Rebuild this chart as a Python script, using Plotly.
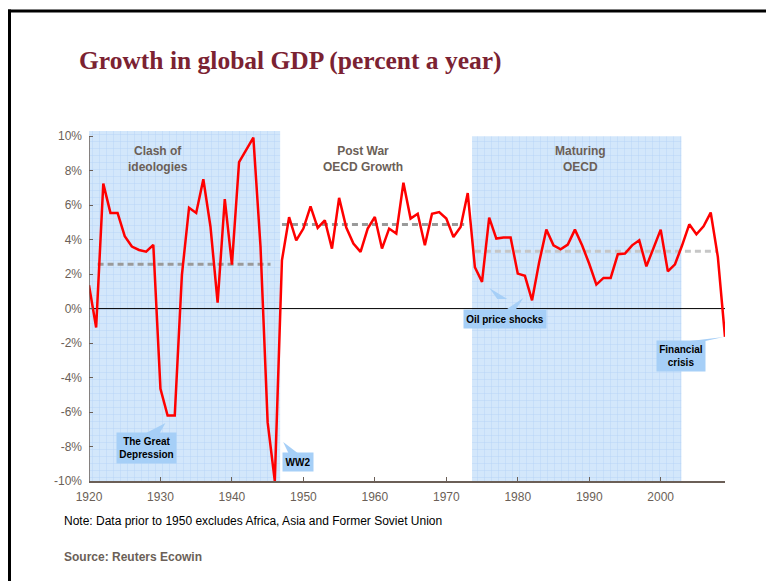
import plotly.graph_objects as go

# Annual growth of world GDP, percent
years = list(range(1920, 2010))
growth = [
    1.35, -1.1, 7.25, 5.55, 5.55, 4.2, 3.6, 3.4, 3.3, 3.7,        # 1920s
    -4.65, -6.2, -6.2, 1.95, 5.85, 5.55, 7.5, 4.75, 0.35, 6.35,   # 1930s
    2.55, 8.5, 9.2, 9.92, 3.6, -6.6, -10.0, 2.8, 5.3, 3.96,       # 1940s
    4.64, 5.93, 4.68, 5.12, 3.48, 6.42, 4.7, 3.77, 3.29, 4.64,    # 1950s
    5.31, 3.48, 4.64, 4.35, 7.3, 5.22, 5.5, 3.67, 5.5, 5.6,       # 1960s
    5.22, 4.15, 4.73, 6.7, 2.4, 1.55, 5.28, 4.06, 4.12, 4.12,     # 1970s
    2.03, 1.9, 0.48, 2.7, 4.58, 3.67, 3.44, 3.71, 4.58, 3.67,     # 1980s
    2.6, 1.39, 1.78, 1.78, 3.15, 3.19, 3.67, 3.96, 2.45, 3.57,    # 1990s
    4.58, 2.16, 2.57, 3.67, 4.89, 4.31, 4.77, 5.57, 3.0, -1.64,   # 2000s
]

# Eras and their average growth
era_labels = ["Clash of<br>ideologies", "Post War<br>OECD Growth", "Maturing<br>OECD"]
era_label_x = [1929.7, 1958.4, 1988.8]
avg_start = [1921.2, 1947.0, 1974.0]
avg_end = [1945.4, 1972.5, 2008.0]
avg_value = [2.57, 4.87, 3.32]
avg_color = ["#9a9a9a", "#9a9a9a", "#c6c6c6"]

# Shaded periods
shade_start = [1920.0, 1973.6]
shade_end = [1946.75, 2002.9]
shade_top = [10.3, 10.0]

# Event call-outs
callout_text = ["The Great<br>Depression", "WW2", "Oil price shocks", "Financial<br>crisis"]
callout_x = [1928.05, 1949.3, 1978.25, 2002.9]
callout_y = [-8.09, -8.9, -0.61, -2.75]
callout_w = [59, 30, 82, 48]
callout_h = [30, 18, 18, 30]
pointers = [
    [(1928.0, -7.22), (1930.7, -6.64), (1929.9, -7.22)],
    [(1947.9, -8.38), (1947.17, -7.74), (1949.2, -8.38)],
    [(1977.14, 0.55), (1976.02, 1.19), (1978.54, 0.55)],
    [(1978.26, -0.09), (1980.78, 0.61), (1979.66, -0.09)],
    [(2004.16, -1.88), (2008.8, -1.65), (2006.26, -1.88)],
]

W, H = 766, 581
L, R, T, B = 89, 41, 131, 100
X0, X1 = 1920, 2009
Y0, Y1 = -10, 10.3

def fx(px):
    return (px - L) / (W - L - R)

def fy(py):
    return (H - B - py) / (H - T - B)

BROWN = "#6b5f57"
CALLOUT = "#a6cff7"

fig = go.Figure()

# shaded eras with a fine grid texture
for s, e, top in zip(shade_start, shade_end, shade_top):
    fig.add_trace(go.Bar(
        x=[(s + e) / 2], y=[top - Y0], base=[Y0], width=[e - s],
        marker=dict(
            color="#d3e7fb", line_width=0,
            pattern=dict(shape="+", size=7, solidity=0.12,
                         fgcolor="#b3d3f5", bgcolor="#d3e7fb", fillmode="replace"),
        ),
        hoverinfo="skip", showlegend=False,
    ))

# zero reference line
fig.add_trace(go.Scatter(x=[X0, X1], y=[0, 0], mode="lines",
                         line=dict(color="black", width=1),
                         hoverinfo="skip", showlegend=False))

# era averages
for s, e, v, c in zip(avg_start, avg_end, avg_value, avg_color):
    fig.add_trace(go.Scatter(x=[s, e], y=[v, v], mode="lines",
                             line=dict(color=c, width=3, dash="6px,4px"),
                             hoverinfo="skip", showlegend=False))

# growth series
fig.add_trace(go.Scatter(x=years, y=growth, mode="lines",
                         line=dict(color="#ff0000", width=2.5),
                         showlegend=False))

shapes = []
for tri in pointers:
    path = "M " + " L ".join(f"{x},{y}" for x, y in tri) + " Z"
    shapes.append(dict(type="path", path=path, xref="x", yref="y",
                       fillcolor=CALLOUT, line=dict(width=0), layer="above"))

# vertical axis line spanning the labelled range only
shapes.append(dict(type="line", xref="x", yref="y", x0=X0, x1=X0, y0=-10, y1=10,
                   line=dict(color=BROWN, width=1.5), layer="above"))

# frame border (left and top)
shapes.append(dict(type="line", xref="paper", yref="paper",
                   x0=fx(9.5), x1=fx(9.5), y0=fy(9.5), y1=fy(H + 5),
                   line=dict(color="black", width=3)))
shapes.append(dict(type="line", xref="paper", yref="paper",
                   x0=fx(8), x1=fx(W + 5), y0=fy(11), y1=fy(11),
                   line=dict(color="black", width=3)))

annotations = []
for txt, x in zip(era_labels, era_label_x):
    annotations.append(dict(x=x, y=8.67, xref="x", yref="y", text=txt,
                            showarrow=False, align="center",
                            font=dict(family="Liberation Sans", size=12, color=BROWN,
                                      weight="bold")))

for txt, x, y, w, h in zip(callout_text, callout_x, callout_y, callout_w, callout_h):
    annotations.append(dict(x=x, y=y, xref="x", yref="y", text=txt,
                            showarrow=False, align="center", width=w - 2, height=h - 2,
                            bgcolor=CALLOUT, borderpad=1, valign="middle",
                            font=dict(family="Liberation Sans", size=10, color="black",
                                      weight="bold")))

annotations.append(dict(xref="paper", yref="paper", x=fx(62), y=fy(521),
                        xanchor="left", yanchor="middle", showarrow=False,
                        text="Note: Data prior to 1950 excludes Africa, Asia and Former Soviet Union",
                        font=dict(family="Liberation Sans", size=12, color="black")))
annotations.append(dict(xref="paper", yref="paper", x=fx(62), y=fy(557),
                        xanchor="left", yanchor="middle", showarrow=False,
                        text="Source: Reuters Ecowin",
                        font=dict(family="Liberation Sans", size=12, color=BROWN,
                                  weight="bold")))

fig.update_layout(
    width=W, height=H,
    margin=dict(l=L, r=R, t=T, b=B, pad=0),
    paper_bgcolor="white", plot_bgcolor="white",
    barmode="overlay",
    title=dict(text="Growth in global GDP (percent a year)",
               x=79 / W, xref="container", xanchor="left",
               y=1 - 60 / H, yref="container", yanchor="middle",
               font=dict(family="Liberation Serif", size=25.5, color="#7b2232",
                         weight="bold")),
    xaxis=dict(range=[X0, X1], tickmode="array",
               tickvals=list(range(1920, 2001, 10)),
               ticks="inside", ticklen=4, tickcolor=BROWN,
               showline=True, linecolor=BROWN, linewidth=1.5,
               showgrid=False, zeroline=False,
               tickfont=dict(family="Liberation Sans", size=12, color=BROWN),
               ticklabelstandoff=4),
    yaxis=dict(range=[Y0, Y1], tickmode="array",
               tickvals=list(range(-10, 11, 2)),
               ticktext=[f"{v}%" for v in range(-10, 11, 2)],
               ticks="inside", ticklen=4, tickcolor=BROWN,
               showline=False,
               showgrid=False, zeroline=False,
               tickfont=dict(family="Liberation Sans", size=12, color=BROWN),
               ticklabelstandoff=6),
    shapes=shapes,
    annotations=annotations,
)

fig.write_html("out.html")
